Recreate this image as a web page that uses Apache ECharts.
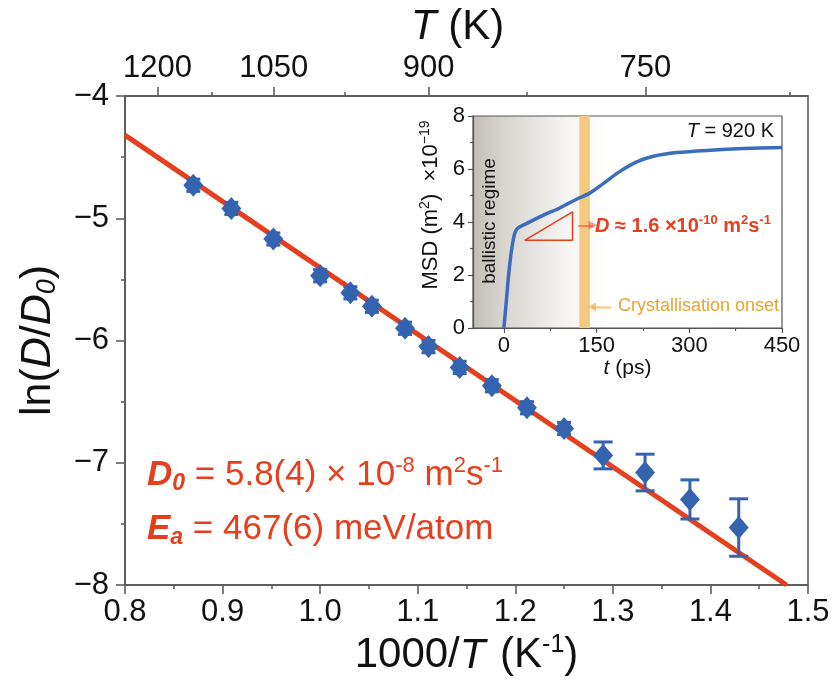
<!DOCTYPE html>
<html>
<head>
<meta charset="utf-8">
<script src="https://cdn.jsdelivr.net/npm/echarts@6/dist/echarts.min.js"></script>
<style>
  html, body { margin: 0; padding: 0; background: #fff; }
  #chart { width: 835px; height: 688px; }
</style>
</head>
<body>
<div id="chart"></div>
<script>
// 主图数据: 1000/T 与 ln(D/D0)
const invT = [0.870, 0.909, 0.952, 1.000, 1.031, 1.053, 1.087, 1.111, 1.143, 1.176, 1.212, 1.250, 1.290, 1.333, 1.379, 1.429]
const lnD = [-4.73, -4.92, -5.17, -5.47, -5.61, -5.72, -5.90, -6.05, -6.22, -6.37, -6.55, -6.72, -6.94, -7.08, -7.30, -7.53]
const lnDErr = [0.05, 0.05, 0.05, 0.05, 0.05, 0.05, 0.05, 0.05, 0.05, 0.05, 0.05, 0.05, 0.11, 0.15, 0.16, 0.235]
// 拟合直线两端
const fitX = [0.8, 1.478]
const fitY = [-4.32, -8]
// 上方温度轴
const topMajorT = [1200, 1050, 900, 750]
const topMinorT = [1125, 975, 825, 675]

// 插图: MSD 曲线 (T = 920 K)
const msdT = [0, 3.8, 8.1, 13.6, 20.1, 36.4, 63.3, 90.4, 117.5, 139, 160.7, 187.8, 214.9, 241.9, 279.8, 333.9, 388, 450]
const msdV = [0, 0.98, 2.11, 3.12, 3.71, 3.94, 4.25, 4.53, 4.86, 5.09, 5.45, 5.91, 6.27, 6.48, 6.62, 6.71, 6.77, 6.81]
const insetMajorX = [0, 150, 300, 450]
const insetMinorX = [75, 225, 375]
const bandX = [122, 139]
const triX = [33.6, 111, 111, 33.6]
const triY = [3.31, 4.38, 3.31, 3.31]
const redArrowX = [120, 144]
const redArrowY = 3.875
const orangeArrowX = [174, 142]
const orangeArrowY = 0.79

const FONT = 'Liberation Sans, Arial, sans-serif'
const RED = '#e63f1d'
const BLUE = '#3464b0'
const ORANGE = '#e9a32f'
const AXIS = '#555'

let myChart = echarts.init(document.getElementById('chart'))

let options = {
  backgroundColor: '#fff',
  animation: false,
  grid: [
    { left: 125, right: 27, top: 96, bottom: 103, show: true, borderColor: AXIS, borderWidth: 1.5, backgroundColor: 'transparent' },
    {
      left: 473, top: 116, width: 309, height: 212, show: true, borderColor: AXIS, borderWidth: 1.2,
      backgroundColor: {
        type: 'linear', x: 0, y: 0, x2: 1, y2: 0,
        colorStops: [
          { offset: 0, color: '#c2beb6' },
          { offset: 0.1, color: '#d8d5cf' },
          { offset: 0.3, color: '#f5f4f2' },
          { offset: 0.45, color: '#ffffff' },
          { offset: 1, color: '#ffffff' }
        ]
      }
    }
  ],
  xAxis: [
    {
      gridIndex: 0, type: 'value', position: 'bottom', min: 0.8, max: 1.5, interval: 0.1,
      axisLine: { show: true, onZero: false, lineStyle: { color: AXIS, width: 1.5 } },
      axisTick: { show: true, length: 9, lineStyle: { color: AXIS, width: 1.5 } },
      minorTick: { show: true, splitNumber: 2, length: 4, lineStyle: { color: AXIS, width: 1.5 } },
      splitLine: { show: false },
      axisLabel: { fontSize: 31, fontFamily: FONT, color: '#111', margin: 12, formatter: v => v.toFixed(1) },
      name: '{n|1000/}{i|T}{n| (K}{sup|-1}{n|)}',
      nameLocation: 'middle', nameGap: 46,
      nameTextStyle: {
        rich: {
          n: { fontSize: 42, fontFamily: FONT, color: '#111', lineHeight: 46 },
          i: { fontSize: 42, fontFamily: FONT, color: '#111', fontStyle: 'italic', lineHeight: 46, padding: [0, 3, 0, 0] },
          sup: { fontSize: 25, fontFamily: FONT, color: '#111', lineHeight: 26, verticalAlign: 'top' }
        }
      }
    },
    {
      gridIndex: 0, type: 'value', position: 'top', min: 0.8, max: 1.5,
      axisLine: { show: true, onZero: false, lineStyle: { color: AXIS, width: 1.5 } },
      axisTick: { show: true, length: 9, customValues: topMajorT.map(t => 1000 / t), lineStyle: { color: AXIS, width: 1.5 } },
      splitLine: { show: false },
      axisLabel: {
        fontSize: 31, fontFamily: FONT, color: '#111', margin: 12,
        customValues: topMajorT.map(t => 1000 / t),
        formatter: v => String(Math.round(1000 / v))
      },
      name: '{i|T}{n| (K)}',
      nameLocation: 'middle', nameGap: 43,
      nameTextStyle: {
        padding: [0, 18, 0, 0],
        rich: {
          n: { fontSize: 42, fontFamily: FONT, color: '#111', lineHeight: 46 },
          i: { fontSize: 42, fontFamily: FONT, color: '#111', fontStyle: 'italic', lineHeight: 46 }
        }
      }
    },
    {
      gridIndex: 0, type: 'value', position: 'top', min: 0.8, max: 1.5,
      axisLine: { show: false },
      axisTick: { show: true, length: 4, customValues: topMinorT.map(t => 1000 / t), lineStyle: { color: AXIS, width: 1.5 } },
      axisLabel: { show: false },
      splitLine: { show: false }
    },
    {
      gridIndex: 1, type: 'value', position: 'bottom', min: -50, max: 450,
      axisLine: { show: true, onZero: false, lineStyle: { color: AXIS, width: 1.2 } },
      axisTick: { show: true, length: 5, customValues: insetMajorX, lineStyle: { color: AXIS, width: 1.2 } },
      splitLine: { show: false },
      axisLabel: { fontSize: 22, fontFamily: FONT, color: '#111', margin: 7, customValues: insetMajorX },
      name: '{i|t}{n| (ps)}',
      nameLocation: 'middle', nameGap: 30,
      nameTextStyle: {
        rich: {
          n: { fontSize: 21, fontFamily: FONT, color: '#111' },
          i: { fontSize: 21, fontFamily: FONT, color: '#111', fontStyle: 'italic' }
        }
      }
    },
    {
      gridIndex: 1, type: 'value', position: 'bottom', min: -50, max: 450,
      axisLine: { show: false },
      axisTick: { show: true, length: 3, customValues: insetMinorX, lineStyle: { color: AXIS, width: 1.2 } },
      axisLabel: { show: false },
      splitLine: { show: false }
    }
  ],
  yAxis: [
    {
      gridIndex: 0, type: 'value', min: -8, max: -4, interval: 1,
      axisLine: { show: true, onZero: false, lineStyle: { color: AXIS, width: 1.5 } },
      axisTick: { show: true, length: 9, lineStyle: { color: AXIS, width: 1.5 } },
      minorTick: { show: true, splitNumber: 2, length: 4, lineStyle: { color: AXIS, width: 1.5 } },
      splitLine: { show: false },
      axisLabel: { fontSize: 31, fontFamily: FONT, color: '#111', margin: 16, formatter: v => (v < 0 ? '\u2212' : '') + Math.abs(v) },
      name: '{n|ln(}{i|D}{n|/}{i|D}{sub|0}{n|)}',
      nameLocation: 'middle', nameGap: 64, nameRotate: 90,
      nameTextStyle: {
        rich: {
          n: { fontSize: 43, fontFamily: FONT, color: '#111', lineHeight: 46 },
          i: { fontSize: 43, fontFamily: FONT, color: '#111', fontStyle: 'italic', lineHeight: 46 },
          sub: { fontSize: 27, fontFamily: FONT, color: '#111', fontStyle: 'italic', lineHeight: 18, verticalAlign: 'bottom' }
        }
      }
    },
    {
      gridIndex: 1, type: 'value', min: 0, max: 8, interval: 2,
      axisLine: { show: true, onZero: false, lineStyle: { color: AXIS, width: 1.2 } },
      axisTick: { show: true, length: 5, lineStyle: { color: AXIS, width: 1.2 } },
      minorTick: { show: true, splitNumber: 2, length: 3, lineStyle: { color: AXIS, width: 1.2 } },
      splitLine: { show: false },
      axisLabel: { fontSize: 22, fontFamily: FONT, color: '#111', margin: 8 }
    }
  ],
  series: [
    {
      name: 'fit', type: 'line', xAxisIndex: 0, yAxisIndex: 0,
      data: fitX.map((x, i) => [x, fitY[i]]),
      symbol: 'none', lineStyle: { color: RED, width: 5 }, z: 2
    },
    {
      name: 'err', type: 'custom', xAxisIndex: 0, yAxisIndex: 0,
      data: invT.map((x, i) => [x, lnD[i] - lnDErr[i], lnD[i] + lnDErr[i]]),
      renderItem: (params, api) => {
        let lo = api.coord([api.value(0), api.value(1)])
        let hi = api.coord([api.value(0), api.value(2)])
        let w = api.value(2) - api.value(1) > 0.15 ? 9.5 : 7
        let style = { stroke: BLUE, lineWidth: 3 }
        return {
          type: 'group',
          children: [
            { type: 'line', shape: { x1: lo[0], y1: lo[1], x2: hi[0], y2: hi[1] }, style },
            { type: 'line', shape: { x1: lo[0] - w, y1: lo[1], x2: lo[0] + w, y2: lo[1] }, style },
            { type: 'line', shape: { x1: hi[0] - w, y1: hi[1], x2: hi[0] + w, y2: hi[1] }, style }
          ]
        }
      },
      z: 3
    },
    {
      name: 'data', type: 'scatter', xAxisIndex: 0, yAxisIndex: 0,
      data: invT.map((x, i) => [x, lnD[i]]),
      symbol: 'diamond', symbolSize: [20, 23],
      itemStyle: { color: BLUE, opacity: 1 }, z: 4
    },
    {
      name: 'msd', type: 'line', xAxisIndex: 3, yAxisIndex: 1,
      data: msdT.map((t, i) => [t, msdV[i]]),
      symbol: 'none', smooth: 0.3, lineStyle: { color: '#3a6dc0', width: 3.5 }, z: 3,
      markArea: {
        silent: true,
        itemStyle: { color: '#f2c97e' },
        data: [[{ xAxis: bandX[0] }, { xAxis: bandX[1] }]]
      }
    },
    {
      name: 'tri', type: 'line', xAxisIndex: 3, yAxisIndex: 1,
      data: triX.map((x, i) => [x, triY[i]]),
      symbol: 'none', lineStyle: { color: RED, width: 1.5 }, z: 4
    },
    {
      name: 'arrows', type: 'lines', coordinateSystem: 'cartesian2d', xAxisIndex: 3, yAxisIndex: 1,
      symbol: ['none', 'triangle'], symbolSize: 9,
      data: [
        { coords: [[redArrowX[0], redArrowY], [redArrowX[1], redArrowY]], lineStyle: { color: RED, width: 2 } },
        { coords: [[orangeArrowX[0], orangeArrowY], [orangeArrowX[1], orangeArrowY]], lineStyle: { color: ORANGE, width: 2.5 } }
      ],
      z: 5
    }
  ],
  graphic: [
    {
      type: 'text', x: 147, y: 475,
      style: {
        text: '{b|D}{bs|0}{n| = 5.8(4) × 10}{sup|-8}{n| m}{sup|2}{n|s}{sup|-1}',
        verticalAlign: 'middle', align: 'left',
        rich: {
          b: { fontSize: 35, fontFamily: FONT, fill: RED, fontWeight: 'bold', fontStyle: 'italic', lineHeight: 40 },
          bs: { fontSize: 23, fontFamily: FONT, fill: RED, fontWeight: 'bold', fontStyle: 'italic', lineHeight: 16, verticalAlign: 'bottom' },
          n: { fontSize: 35, fontFamily: FONT, fill: RED, lineHeight: 40 },
          sup: { fontSize: 22, fontFamily: FONT, fill: RED, lineHeight: 22, verticalAlign: 'top' }
        }
      }
    },
    {
      type: 'text', x: 147, y: 529,
      style: {
        text: '{b|E}{bs|a}{n| = 467(6) meV/atom}',
        verticalAlign: 'middle', align: 'left',
        rich: {
          b: { fontSize: 35, fontFamily: FONT, fill: RED, fontWeight: 'bold', fontStyle: 'italic', lineHeight: 40 },
          bs: { fontSize: 23, fontFamily: FONT, fill: RED, fontWeight: 'bold', fontStyle: 'italic', lineHeight: 16, verticalAlign: 'bottom' },
          n: { fontSize: 35, fontFamily: FONT, fill: RED, lineHeight: 40 }
        }
      }
    },
    {
      type: 'text', x: 595, y: 226,
      style: {
        text: '{i|D}{n| ≈ 1.6 ×10}{sup|-10}{n| m}{sup|2}{n|s}{sup|-1}',
        verticalAlign: 'middle', align: 'left',
        rich: {
          i: { fontSize: 20, fontFamily: FONT, fill: RED, fontWeight: 'bold', fontStyle: 'italic', lineHeight: 24 },
          n: { fontSize: 20, fontFamily: FONT, fill: RED, fontWeight: 'bold', lineHeight: 24 },
          sup: { fontSize: 13, fontFamily: FONT, fill: RED, fontWeight: 'bold', lineHeight: 13, verticalAlign: 'top' }
        }
      }
    },
    {
      type: 'text', x: 618, y: 306,
      style: { text: 'Crystallisation onset', fontSize: 18, fontFamily: FONT, fill: ORANGE, verticalAlign: 'middle', align: 'left' }
    },
    {
      type: 'text', x: 774, y: 131,
      style: {
        text: '{i|T}{n| = 920 K}',
        verticalAlign: 'middle', align: 'right',
        rich: {
          i: { fontSize: 20, fontFamily: FONT, fill: '#111', fontStyle: 'italic' },
          n: { fontSize: 20, fontFamily: FONT, fill: '#111' }
        }
      }
    },
    {
      type: 'text', x: 490, y: 221, rotation: Math.PI / 2,
      style: { text: 'ballistic regime', fontSize: 19, fontFamily: FONT, fill: '#111', verticalAlign: 'middle', align: 'center' }
    },
    {
      type: 'text', x: 431, y: 205, rotation: Math.PI / 2,
      style: {
        text: '{n|MSD (m}{sup|2}{n|)  ×10}{sup|−19}',
        verticalAlign: 'middle', align: 'center',
        rich: {
          n: { fontSize: 22, fontFamily: FONT, fill: '#111', lineHeight: 26 },
          sup: { fontSize: 14, fontFamily: FONT, fill: '#111', lineHeight: 14, verticalAlign: 'top' }
        }
      }
    }
  ]
}

myChart.setOption(options)
</script>
</body>
</html>
